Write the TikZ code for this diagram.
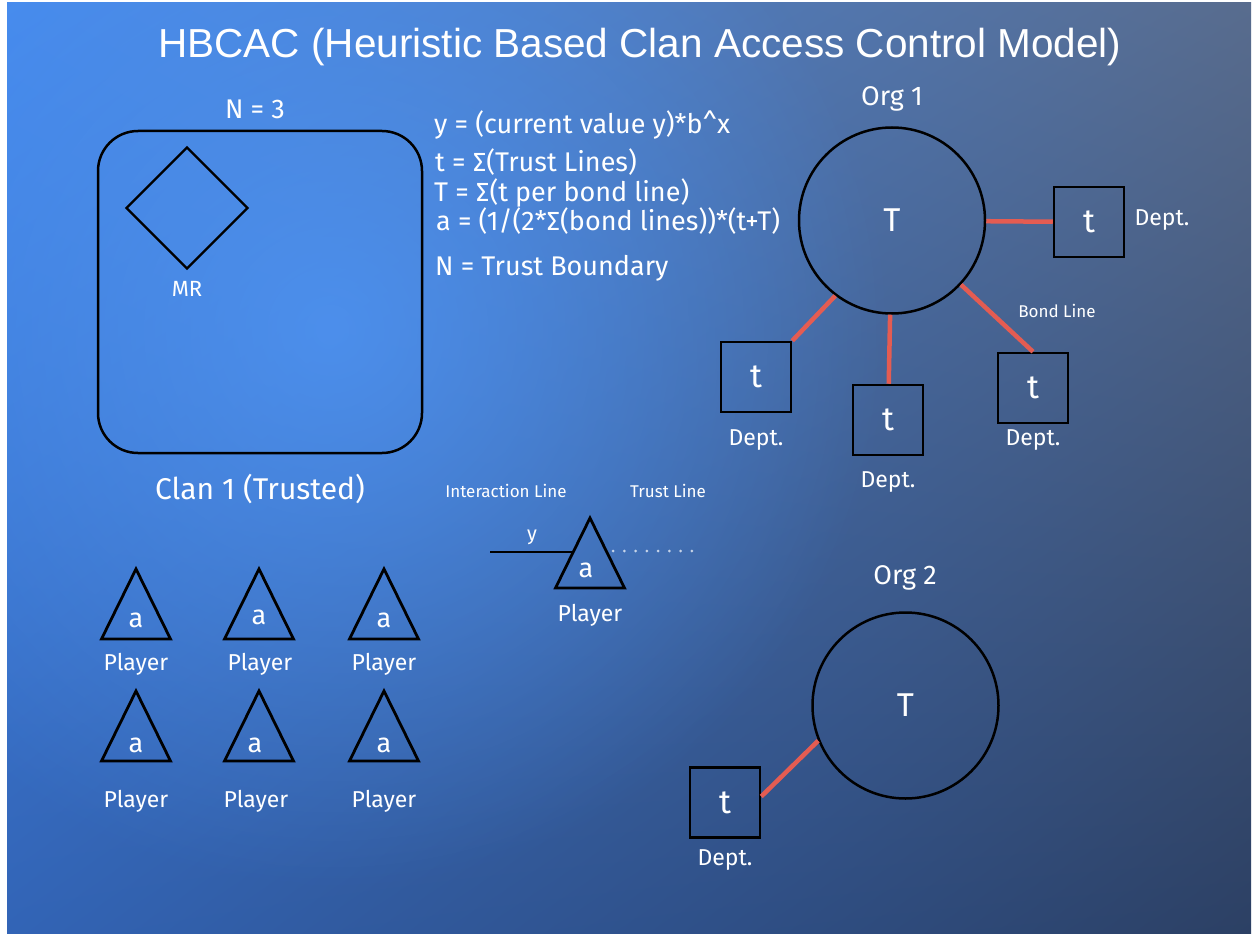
\documentclass[tikz,border=0pt]{standalone}
\usepackage{fontspec}
\setmainfont{Fira Sans}
\newfontfamily\titlefont{Liberation Sans}
\usetikzlibrary{fadings,shadings,shapes.geometric}
\definecolor{bgUL}{RGB}{70,138,236}
\definecolor{bgUR}{RGB}{88,108,142}
\definecolor{bgLL}{RGB}{50,100,182}
\definecolor{bgLR}{RGB}{44,64,100}
\definecolor{glow}{RGB}{80,152,250}
\definecolor{bondred}{RGB}{228,92,82}
\tikzfading[name=myglow, inner color=transparent!0, outer color=transparent!100]
\newcommand\fs[1]{\fontsize{#1}{#1}\selectfont}
\newcommand\plyr[3]{%
  \coordinate (#1) at (#2,#3);
  \draw[tri] (#1) -- ++(34.5,70) -- ++(-69,0) -- cycle;}
\begin{document}
\begin{tikzpicture}[x=1pt,y=-1pt,
  lbl/.style={text=white, inner sep=0pt},
  box/.style={draw=black, line width=2.5pt, minimum size=70pt, inner sep=0pt, text=white, font=\fs{33}},
  org/.style={circle, draw=black, line width=2.5pt, minimum size=186pt, inner sep=0pt, text=white, font=\fs{33}},
  bond/.style={draw=bondred, line width=4.5pt},
  tri/.style={draw=black, line width=2.8pt, line join=miter},
  formula/.style={lbl, anchor=base west, font=\fs{27}},
  dept/.style={lbl, font=\fs{23}},
  player/.style={lbl, font=\fs{23}},
  alabel/.style={lbl, font=\fs{27}},
  small/.style={lbl, font=\fs{17}}]
\useasboundingbox (0,0) rectangle (1253,936);
\fill[white] (0,0) rectangle (1253,936);
\shade[upper left=bgUL, upper right=bgUR, lower left=bgLL, lower right=bgLR] (7,3) rectangle (1251,933);
\begin{scope}
  \clip (7,3) rectangle (1251,933);
  \fill[glow, path fading=myglow, fill opacity=0.75] (330,330) circle (560);
\end{scope}

% title
\node[lbl, font=\titlefont\fs{40.5}] (title) at (640,47) {HBCAC (Heuristic Based Clan Access Control Model)};

% clan
\node[draw=black, rounded corners=40pt, line width=2.5pt, minimum width=324pt, minimum height=322pt] (clan) at (260,292) {};
\node[draw=black, diamond, line width=2.2pt, minimum width=122pt, minimum height=122pt, inner sep=0pt] (mr) at (187,208) {};
\node[lbl, font=\fs{22}] (mrl) at (187,289) {MR};
\node[lbl, font=\fs{27}] (n3) at (255,109) {N = 3};
\node[lbl, font=\fs{30}] (clanl) at (260,489) {Clan 1 (Trusted)};

% formulas
\node[formula] (f1) at (434,134) {y = (current value y)*b\^{}x};
\node[formula] (f2) at (435,172) {t = ∑(Trust Lines)};
\node[formula] (f3) at (434,202) {T = ∑(t per bond line)};
\node[formula] (f4) at (436,230) {a = (1/(2*∑(bond lines))*(t+T)};
\node[formula] (f5) at (435,276) {N = Trust Boundary};

% org 1
\node[lbl, font=\fs{27}] (org1l) at (892,99) {Org 1};
\node[org] (org1) at (892,220.5) {T};
\node[box] (d1) at (1089,222) {t};
\node[box] (d2) at (756,377) {t};
\node[box] (d3) at (888,420) {t};
\node[box] (d4) at (1033,388) {t};
\node[dept] (d1l) at (1162,220) {Dept.};
\node[dept] (d2l) at (756,440) {Dept.};
\node[dept] (d3l) at (888,482) {Dept.};
\node[dept] (d4l) at (1033,440) {Dept.};
\node[small] (bondl) at (1057,311) {Bond Line};
\draw[bond] (org1) -- (d1);
\draw[bond] (org1.233) -- (d2.north east);
\draw[bond] (org1) -- (d3);
\draw[bond] (org1) -- (d4.north);

% org 2
\node[lbl, font=\fs{27}] (org2l) at (905,578) {Org 2};
\node[org] (org2) at (905.5,705.5) {T};
\node[box] (d5) at (725,802.5) {t};
\node[dept] (d5l) at (725,860) {Dept.};
\draw[bond] (org2.202) -- ([yshift=6pt]d5.east);

% central player
\plyr{cp}{590}{518}
\node[alabel] (cpa) at (586,570) {a};
\node[player] (cpl) at (590,615) {Player};
\coordinate (ilstart) at (490,552);
\coordinate (iledge) at (573,552);
\draw[black, line width=2.5pt] (ilstart) -- (iledge);
\node[lbl, font=\fs{20}] (ylab) at (532,537) {y};
\coordinate (tl1) at (613,551);
\coordinate (tl2) at (692,551);
\draw[white, opacity=0.7, line width=3pt, line cap=round, dash pattern=on 0pt off 11.28pt] (tl1) -- (tl2);
\node[small] (ill) at (506,491) {Interaction Line};
\node[small] (tll) at (668,491) {Trust Line};

% players grid
\plyr{p1}{136}{569}
\plyr{p2}{259}{569}
\plyr{p3}{384}{569}
\plyr{p4}{136}{691}
\plyr{p5}{259}{691}
\plyr{p6}{384}{691}
\node[alabel] (a1) at (136,620) {a};
\node[alabel] (a2) at (259,617) {a};
\node[alabel] (a3) at (384,620) {a};
\node[alabel] (a4) at (136,745) {a};
\node[alabel] (a5) at (255,745) {a};
\node[alabel] (a6) at (384,745) {a};
\node[player] (pl1) at (136,664) {Player};
\node[player] (pl2) at (260,664) {Player};
\node[player] (pl3) at (384,664) {Player};
\node[player] (pl4) at (136,801) {Player};
\node[player] (pl5) at (256,801) {Player};
\node[player] (pl6) at (384,801) {Player};
\end{tikzpicture}
\end{document}
